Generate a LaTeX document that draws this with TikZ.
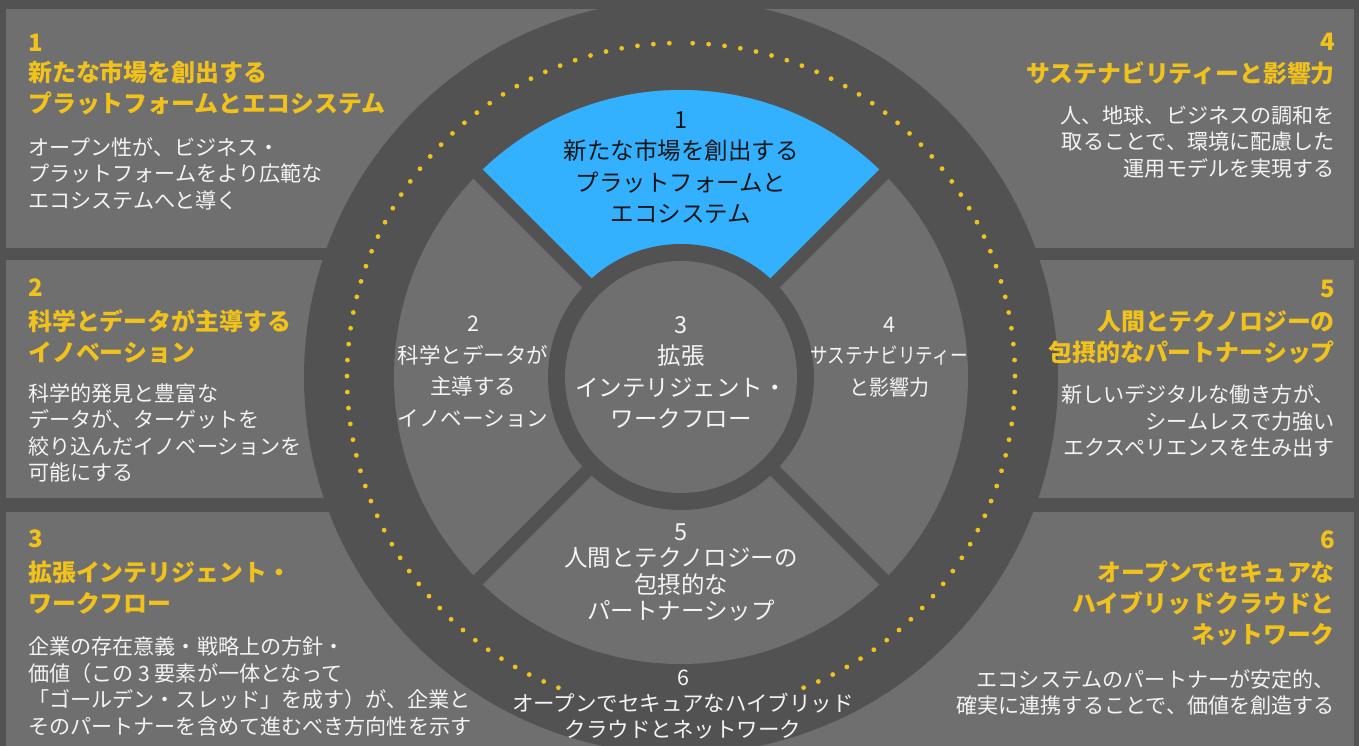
\documentclass[tikz,border=0pt]{standalone}
\usepackage{fontspec}
\setmainfont{Noto Sans CJK JP}
\definecolor{bgdark}{HTML}{525252}
\definecolor{panelgray}{HTML}{6F6F6F}
\definecolor{hlblue}{HTML}{33B1FF}
\definecolor{hlyellow}{HTML}{F1C21B}
\definecolor{txtwhite}{HTML}{F4F4F4}
\definecolor{txtblack}{HTML}{161616}
\begin{document}
\begin{tikzpicture}[x=1pt,y=1pt,
  panel/.style={fill=panelgray,draw=none},
  numtxt/.style={font=\fontsize{24}{31}\selectfont\bfseries,text=hlyellow,inner sep=0},
  headtxt/.style={font=\fontsize{23.9}{31}\selectfont\bfseries,text=hlyellow,inner sep=0},
  bodytxt/.style={font=\fontsize{21.1}{26.5}\selectfont,text=txtwhite,inner sep=0},
  labtxt/.style={font=\fontsize{23.5}{31.5}\selectfont,text=txtwhite,align=center,inner sep=0},
  dotmark/.style={fill=hlyellow}
]
\useasboundingbox (0,0) rectangle (1359,-746);
\fill[bgdark] (0,0) rectangle (1359,-746);
% panels
\fill[panel] (6,-9) rectangle (1354,-248);
\fill[panel] (6,-260) rectangle (1354,-498);
\fill[panel] (6,-512) rectangle (1354,-746);
% wheel
\coordinate (c) at (681,-377);
\fill[bgdark] (c) circle (377);
\foreach \i in {0,...,57}{
  \fill[dotmark] ([shift={(92+\i*2.745:334)}]c) circle (2.4);
  \fill[dotmark] ([shift={(88-\i*2.745:334)}]c) circle (2.4);
}
\fill[panelgray] (c) circle (287);
\fill[hlblue] (c) -- ([shift={(45:287)}]c) arc[start angle=45,end angle=135,radius=287] -- cycle;
\draw[bgdark,line width=13] ([shift={(45:292)}]c) -- ([shift={(225:292)}]c);
\draw[bgdark,line width=13] ([shift={(135:292)}]c) -- ([shift={(315:292)}]c);
\fill[bgdark] (c) circle (133);
\fill[panelgray] (c) circle (116);

% wheel labels
\node[labtxt,text=txtblack] (w1) at (681,-167.5) {1\\新たな市場を創出する\\プラットフォームと\\エコシステム};
\node[labtxt,font=\fontsize{21.5}{31.5}\selectfont] (w2) at (473,-372) {2\\科学とデータが\\主導する\\イノベーション};
\node[labtxt] (w3) at (681,-372.5) {3\\拡張\\インテリジェント・\\ワークフロー};
\node[labtxt,font=\fontsize{21.5}{31.5}\selectfont] (w4) at (889,-357) {4\\\scalebox{0.82}[1]{サステナビリティー}\\\scalebox{0.93}[1]{と影響力}};
\node[labtxt,font=\fontsize{23.5}{26.5}\selectfont] (w5) at (681,-572.5) {5\\人間とテクノロジーの\\包摂的な\\パートナーシップ};
\node[labtxt,font=\fontsize{21.5}{26}\selectfont] (w6) at (683,-704) {6\\オープンでセキュアなハイブリッド\\クラウドとネットワーク};

% left panels
\node[numtxt,anchor=west] (n1) at (28,-43) {1};
\node[headtxt,anchor=west,align=left] (h1) at (28,-87.5) {新たな市場を創出する\\プラットフォームとエコシステム};
\node[bodytxt,anchor=west,align=left] (b1) at (28,-173.5) {オープン性が、ビジネス・\\プラットフォームをより広範な\\エコシステムへと導く};

\node[numtxt,anchor=west] (n2) at (28,-288) {2};
\node[headtxt,anchor=west,align=left] (h2) at (28,-337) {科学とデータが主導する\\イノベーション};
\node[bodytxt,anchor=west,align=left] (b2) at (28,-433) {科学的発見と豊富な\\データが、ターゲットを\\絞り込んだイノベーションを\\可能にする};

\node[numtxt,anchor=west] (n3) at (28,-539) {3};
\node[headtxt,anchor=west,align=left] (h3) at (28,-587.5) {拡張インテリジェント・\\ワークフロー};
\node[bodytxt,anchor=west,align=left] (b3) at (28,-686.5) {企業の存在意義・戦略上の方針・\\価値（この 3 要素が一体となって\\「ゴールデン・スレッド」を成す）が、企業と\\そのパートナーを含めて進むべき方向性を示す};

% right panels
\node[numtxt,anchor=east] (n4) at (1335,-42) {4};
\node[headtxt,anchor=east,align=right] (h4) at (1335,-73) {サステナビリティーと影響力};
\node[bodytxt,anchor=east,align=right] (b4) at (1335,-141.7) {人、地球、ビジネスの調和を\\取ることで、環境に配慮した\\運用モデルを実現する};

\node[numtxt,anchor=east] (n5) at (1335,-289) {5};
\node[headtxt,anchor=east,align=right] (h5) at (1335,-337.5) {人間とテクノロジーの\\包摂的なパートナーシップ};
\node[bodytxt,anchor=east,align=right] (b5) at (1335,-421.3) {新しいデジタルな働き方が、\\シームレスで力強い\\エクスペリエンスを生み出す};

\node[numtxt,anchor=east] (n6) at (1335,-540) {6};
\node[headtxt,anchor=east,align=right] (h6) at (1335,-603.3) {オープンでセキュアな\\ハイブリッドクラウドと\\ネットワーク};
\node[bodytxt,anchor=east,align=right] (b6) at (1335,-692.5) {エコシステムのパートナーが安定的、\\確実に連携することで、価値を創造する};
\end{tikzpicture}
\end{document}
